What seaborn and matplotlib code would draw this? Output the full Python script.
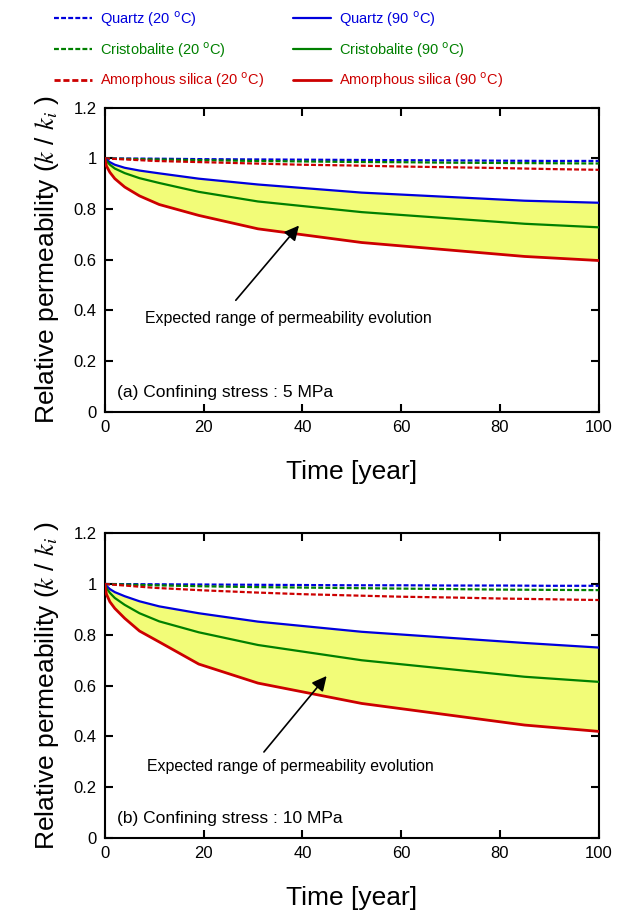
import matplotlib
matplotlib.use("Agg")
import matplotlib.pyplot as plt
import seaborn as sns
from matplotlib.lines import Line2D

# time points (years) where the curves bend
years = [0, 0.3, 1, 2, 4, 7, 11, 19, 31, 52, 85, 100]

# (a) confining stress 5 MPa, 90 oC
quartz_90_a = [1, 0.995, 0.985, 0.975, 0.963, 0.952, 0.941, 0.92, 0.897, 0.865, 0.833, 0.825]
cristo_90_a = [1, 0.99, 0.975, 0.96, 0.942, 0.922, 0.903, 0.868, 0.83, 0.788, 0.742, 0.728]
amorph_90_a = [1, 0.97, 0.945, 0.92, 0.887, 0.852, 0.818, 0.775, 0.722, 0.668, 0.613, 0.597]

# (b) confining stress 10 MPa, 90 oC
quartz_90_b = [1, 0.993, 0.98, 0.968, 0.952, 0.932, 0.912, 0.885, 0.852, 0.812, 0.768, 0.75]
cristo_90_b = [1, 0.985, 0.965, 0.945, 0.918, 0.885, 0.853, 0.81, 0.76, 0.70, 0.635, 0.615]
amorph_90_b = [1, 0.96, 0.93, 0.904, 0.865, 0.815, 0.772, 0.685, 0.61, 0.53, 0.445, 0.42]

# 20 oC curves (almost flat)
years_20 = [0, 10, 20, 30, 40, 50, 60, 70, 80, 90, 100]
quartz_20_a = [1, 0.999, 0.997, 0.996, 0.995, 0.994, 0.993, 0.992, 0.991, 0.990, 0.990]
cristo_20_a = [1, 0.996, 0.993, 0.990, 0.988, 0.986, 0.985, 0.983, 0.982, 0.981, 0.980]
amorph_20_a = [1, 0.990, 0.985, 0.980, 0.975, 0.972, 0.968, 0.965, 0.962, 0.958, 0.955]
quartz_20_b = [1, 0.999, 0.998, 0.997, 0.996, 0.995, 0.995, 0.994, 0.994, 0.993, 0.993]
cristo_20_b = [1, 0.995, 0.991, 0.988, 0.986, 0.984, 0.982, 0.980, 0.978, 0.977, 0.976]
amorph_20_b = [1, 0.985, 0.975, 0.967, 0.960, 0.955, 0.950, 0.947, 0.943, 0.940, 0.937]

panel_labels = ["(a) Confining stress : 5 MPa", "(b) Confining stress : 10 MPa"]
note = "Expected range of permeability evolution"

BLUE, GREEN, RED = "#0000dd", "#008000", "#cc0000"
FILL = "#f2fc78"

sns.set_style("ticks", {"axes.edgecolor": "black", "xtick.color": "black",
                        "ytick.color": "black", "text.color": "black",
                        "axes.labelcolor": "black"})
plt.rcParams["font.family"] = ["Liberation Sans", "DejaVu Sans"]
plt.rcParams["mathtext.fontset"] = "stix"

fig = plt.figure(figsize=(6.21, 9.13), dpi=100)
ax_a = fig.add_axes([0.169, 0.549, 0.795, 0.333])
ax_b = fig.add_axes([0.169, 0.082, 0.795, 0.334])

dash = (2.2, 1.0)

def draw(ax, q90, c90, a90, q20, c20, a20, label, tip, tail, note_xy):
    ax.fill_between(years, q90, a90, color=FILL, lw=0, zorder=1)
    sns.lineplot(x=years_20, y=q20, ax=ax, color=BLUE, lw=1.6, zorder=3).lines[-1].set_dashes(dash)
    sns.lineplot(x=years_20, y=c20, ax=ax, color=GREEN, lw=1.6, zorder=3).lines[-1].set_dashes(dash)
    sns.lineplot(x=years_20, y=a20, ax=ax, color=RED, lw=1.6, zorder=3).lines[-1].set_dashes(dash)
    sns.lineplot(x=years, y=q90, ax=ax, color=BLUE, lw=1.6, zorder=4)
    sns.lineplot(x=years, y=c90, ax=ax, color=GREEN, lw=1.6, zorder=4)
    sns.lineplot(x=years, y=a90, ax=ax, color=RED, lw=2, zorder=4)

    ax.annotate("", xy=tip, xytext=tail,
                arrowprops=dict(arrowstyle="-|>", color="black", lw=1.2,
                                mutation_scale=22, shrinkA=0, shrinkB=0), zorder=5)
    ax.text(note_xy[0], note_xy[1], note, fontsize=11.4, va="center", ha="left")
    ax.text(2.4, 0.077, label, fontsize=12.5, va="center", ha="left")

    ax.set_xlim(0, 100)
    ax.set_ylim(0, 1.2)
    ax.set_xticks([0, 20, 40, 60, 80, 100])
    ax.set_yticks([0, 0.2, 0.4, 0.6, 0.8, 1, 1.2])
    ax.set_yticklabels(["0", "0.2", "0.4", "0.6", "0.8", "1", "1.2"])
    ax.tick_params(direction="in", top=True, right=True, length=6, width=1.5,
                   labelsize=12, pad=6)
    for s in ax.spines.values():
        s.set_linewidth(1.5)
        s.set_visible(True)
    ax.set_xlabel("Time [year]", fontsize=19, labelpad=18)
    ax.set_ylabel(r"Relative permeability ($k$ / $k_i$ )", fontsize=19, labelpad=9)

draw(ax_a, quartz_90_a, cristo_90_a, amorph_90_a, quartz_20_a, cristo_20_a, amorph_20_a,
     panel_labels[0], tip=(39.3, 0.735), tail=(26.5, 0.44), note_xy=(8.1, 0.37))
draw(ax_b, quartz_90_b, cristo_90_b, amorph_90_b, quartz_20_b, cristo_20_b, amorph_20_b,
     panel_labels[1], tip=(44.9, 0.638), tail=(32.2, 0.339), note_xy=(8.5, 0.283))

deg = r"$^{\rm o}$C)"
handles = [
    Line2D([], [], color=BLUE, lw=1.6, dashes=dash, label="Quartz (20 " + deg),
    Line2D([], [], color=GREEN, lw=1.6, dashes=dash, label="Cristobalite (20 " + deg),
    Line2D([], [], color=RED, lw=2, dashes=dash, label="Amorphous silica (20 " + deg),
    Line2D([], [], color=BLUE, lw=1.6, label="Quartz (90 " + deg),
    Line2D([], [], color=GREEN, lw=1.6, label="Cristobalite (90 " + deg),
    Line2D([], [], color=RED, lw=2, label="Amorphous silica (90 " + deg),
]
plt.rcParams["mathtext.fontset"] = "custom"
fig.legend(handles=handles, ncol=2, loc="upper left", bbox_to_anchor=(0.074, 0.999),
           frameon=False, fontsize=10.5, handlelength=2.6, handletextpad=0.55,
           columnspacing=2.0, labelspacing=0.78, borderpad=0.05,
           labelcolor="linecolor")

fig.savefig("out.png", dpi=100)
